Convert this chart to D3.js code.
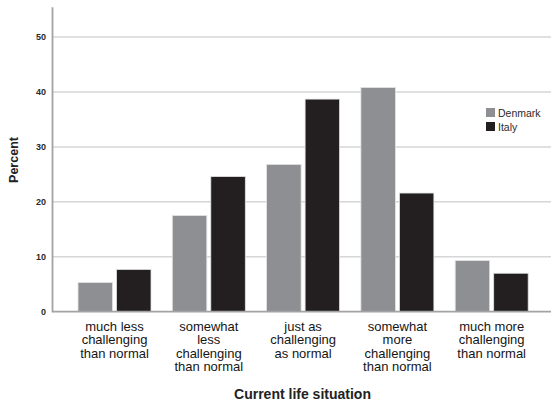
<!DOCTYPE html>
<html>
<head>
<meta charset="utf-8">
<script src="https://cdn.jsdelivr.net/npm/d3@7"></script>
<style>
  body { margin: 0; background: #fff; }
  text { font-family: "Liberation Sans", Arial, sans-serif; }
</style>
</head>
<body>
<svg id="chart" width="551" height="403"></svg>
<script>
// values (percent)
var categories = [
  ["much less", "challenging", "than normal"],
  ["somewhat", "less", "challenging", "than normal"],
  ["just as", "challenging", "as normal"],
  ["somewhat", "more", "challenging", "than normal"],
  ["much more", "challenging", "than normal"]
]
var countries = ["Denmark", "Italy"]
var denmark = [5.3, 17.5, 26.8, 40.8, 9.3]
var italy = [7.7, 24.6, 38.7, 21.6, 7.0]
var yTicks = [0, 10, 20, 30, 40, 50]

var colors = { "Denmark": "#8e8f93", "Italy": "#231f20" }

var svg = d3.select("#chart")
var catKeys = categories.map(function(c) { return c.join(" ") })

var rows = catKeys.map(function(k, i) {
   return { key: k, lines: categories[i], values: [
      { country: "Denmark", v: denmark[i] },
      { country: "Italy", v: italy[i] }
   ] }
})

var xScale = d3.scaleBand().domain(catKeys).range([52, 554.2])
   .paddingInner(0.226).paddingOuter(0.276)
var xSub = d3.scaleBand().domain(countries).range([0, xScale.bandwidth()])
   .paddingInner(0.104)
var yScale = d3.scaleLinear().domain([0, 55.5]).range([311.7, 6.8])

// gridlines
svg.append("g")
   .selectAll("line")
   .data(yTicks.filter(function(d) { return d > 0 }))
   .join("line")
   .attr("x1", 52).attr("x2", 551)
   .attr("y1", function(d) { return yScale(d) })
   .attr("y2", function(d) { return yScale(d) })
   .style("stroke", "#d6d6d6")
   .style("stroke-width", 1.5)

// bars
var groups = svg.append("g")
   .selectAll("g")
   .data(rows)
   .join("g")
   .attr("transform", function(d) { return "translate(" + xScale(d.key) + ",0)" })

groups.selectAll("rect")
   .data(function(d) { return d.values })
   .join("rect")
   .attr("x", function(d) { return xSub(d.country) })
   .attr("width", xSub.bandwidth())
   .attr("y", function(d) { return yScale(d.v) })
   .attr("height", function(d) { return yScale(0) - yScale(d.v) })
   .attr("fill", function(d) { return colors[d.country] })
   .style("stroke", "#e2e2e2")
   .style("stroke-width", 0.8)

// y axis
var yAxis = d3.axisLeft(yScale).tickValues(yTicks).tickSize(0).tickPadding(6)
var yg = svg.append("g")
   .attr("transform", "translate(52,0)")
   .call(yAxis)
yg.select(".domain").style("stroke", "#a3a3a3").style("stroke-width", 1.8)
yg.selectAll("text")
   .style("font-size", "9px")
   .style("font-weight", "bold")
   .attr("fill", "#2a2a2a")

// x axis line
svg.append("line")
   .attr("x1", 52).attr("x2", 551)
   .attr("y1", yScale(0)).attr("y2", yScale(0))
   .style("stroke", "#a3a3a3")
   .style("stroke-width", 1.8)

// category labels
var labels = svg.append("g")
   .selectAll("text")
   .data(rows)
   .join("text")
   .attr("text-anchor", "middle")
   .attr("x", function(d) { return xScale(d.key) + xScale.bandwidth() / 2 })
   .attr("y", 330.5)
   .style("font-size", "13px")
   .attr("fill", "#151515")

labels.selectAll("tspan")
   .data(function(d) { return d.lines.map(function(l) { return { l: l, x: xScale(d.key) + xScale.bandwidth() / 2 } }) })
   .join("tspan")
   .attr("x", function(d) { return d.x })
   .attr("dy", function(d, i) { return i === 0 ? 0 : 13.6 })
   .text(function(d) { return d.l })

// axis titles
svg.append("text")
   .attr("text-anchor", "middle")
   .attr("x", 302.5)
   .attr("y", 399)
   .style("font-size", "14px")
   .style("font-weight", "bold")
   .attr("fill", "#222")
   .text("Current life situation")

svg.append("text")
   .attr("text-anchor", "middle")
   .attr("transform", "translate(18,160) rotate(-90)")
   .style("font-size", "12.5px")
   .style("font-weight", "bold")
   .attr("fill", "#222")
   .text("Percent")

// legend
var legend = svg.append("g")
   .selectAll("g")
   .data(countries)
   .join("g")
   .attr("transform", function(d, i) { return "translate(486," + (108 + i * 14) + ")" })

legend.append("rect")
   .attr("width", 9).attr("height", 9)
   .attr("fill", function(d) { return colors[d] })
legend.append("text")
   .attr("x", 12).attr("y", 8.5)
   .style("font-size", "10.5px")
   .attr("fill", "#2a2a2a")
   .text(function(d) { return d })
</script>
</body>
</html>
